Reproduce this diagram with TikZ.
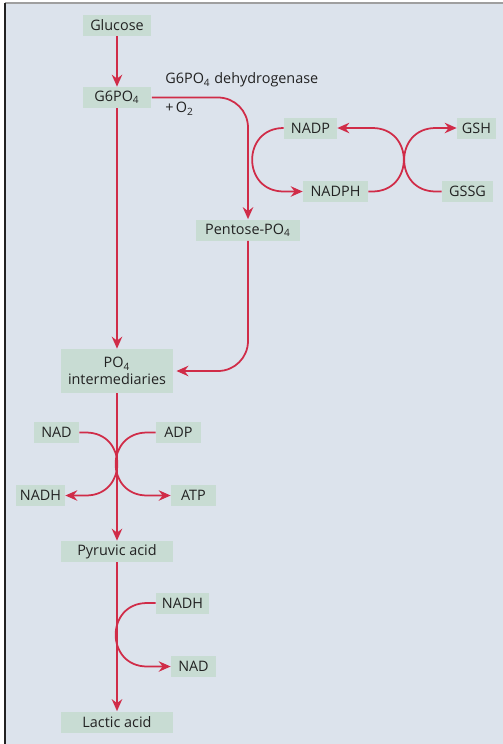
\documentclass[tikz,border=0pt]{standalone}
\usepackage{fontspec}
\setmainfont{Open Sans}
\usetikzlibrary{arrows.meta}
\definecolor{bg}{HTML}{DCE3EC}
\definecolor{box}{HTML}{C8DCD3}
\definecolor{flow}{HTML}{D02C48}
\definecolor{ink}{HTML}{222222}
\tikzset{
  bx/.style={fill=box, minimum height=0.42cm, inner sep=0pt, align=center, text=ink, font=\fontsize{8.2}{9.4}\selectfont},
  lbl/.style={inner sep=0pt, text=ink, font=\fontsize{8.2}{9.4}\selectfont},
  a/.style={-{Stealth[length=0.24cm, width=0.21cm, inset=0.08cm]}, draw=flow, line width=1pt},
}

\begin{document}
\begin{tikzpicture}[x=0.02cm, y=-0.02cm]
\useasboundingbox (0,0) rectangle (503,744);
\fill[bg] (5,3) rectangle (503,744);
\draw[gray!75, line width=1.2pt] (4.5,3) -- (503,3);
\draw[ink, line width=1pt] (5,3) -- (5,744);

% main chain
\node[bx, minimum width=1.38cm] (glc)  at (117, 25)   {Glucose};
\node[bx, minimum width=1.38cm] (g6p)  at (117, 97.5) {G6PO\textsubscript{4}};
\node[bx, minimum width=2.26cm, minimum height=0.88cm] (po4) at (117, 371) {PO\textsubscript{4}\\intermediaries};
\node[bx, minimum width=2.26cm] (pyr)  at (117, 551.5) {Pyruvic acid};
\node[bx, minimum width=2.26cm] (lac)  at (117, 722)  {Lactic acid};

% shunt
\node[bx, minimum width=2.08cm] (pent) at (248, 230)    {Pentose-PO\textsubscript{4}};
\node[lbl, anchor=west] (enz) at (165, 80)  {G6PO\textsubscript{4} dehydrogenase};
\node[lbl, anchor=west] (oxy) at (165, 109) {+\,O\textsubscript{2}};
\node[bx, minimum width=1.06cm] (nadp)  at (310.5, 128)   {NADP};
\node[bx, minimum width=1.30cm] (nadph) at (335.5, 191.5) {NADPH};
\node[bx, minimum width=0.78cm] (gsh)   at (476.5, 128)   {GSH};
\node[bx, minimum width=1.02cm] (gssg)  at (467.5, 191.5) {GSSG};

% side reactions
\node[bx, minimum width=0.90cm] (nad1)  at (56.5, 432.5)  {NAD};
\node[bx, minimum width=0.90cm] (adp)   at (178.5, 432.5) {ADP};
\node[bx, minimum width=0.98cm] (nadh1) at (40.5, 495.5)  {NADH};
\node[bx, minimum width=0.90cm] (atp)   at (193.5, 495.5) {ATP};
\node[bx, minimum width=1.06cm] (nadh2) at (182.5, 603)   {NADH};
\node[bx, minimum width=0.90cm] (nad2)  at (193.5, 666.5) {NAD};

\draw[a] (glc.south) -- (g6p.north);
\draw[a] (g6p.south) -- (po4.north);
\draw[a] (po4.south) -- (pyr.north);
\draw[a] (pyr.south) -- (lac.north);
\draw[a, rounded corners=0.6cm] (g6p.east) -| (pent.north);
\draw[a, rounded corners=0.6cm, shorten >=1.5pt] (pent.south) |- (po4.east);

\draw[a] (nadp.west) .. controls +(-42,0) and +(-42,0) .. ++(0,63.5) -- (nadph.west);
\draw[a] (nadph.east) -- ++(4,0) .. controls +(42,0) and +(42,0) .. ++(0,-63.5) -- (nadp.east);
\draw[a] (gssg.west) -- ++(-6,0) .. controls +(-42,0) and +(-42,0) .. ++(0,-63.5) -- (gsh.west);

\draw[a] (nad1.east) -- ++(6.5,0) .. controls +(42,0) and +(42,0) .. ++(0,63) -- (nadh1.east);
\draw[a] (adp.west) -- ++(-8.5,0) .. controls +(-42,0) and +(-42,0) .. ++(0,63) -- (atp.west);
\draw[a] (nadh2.west) -- ++(-8.5,0) .. controls +(-42,0) and +(-42,0) .. ++(0,63.5) -- (nad2.west);
\end{tikzpicture}
\end{document}
